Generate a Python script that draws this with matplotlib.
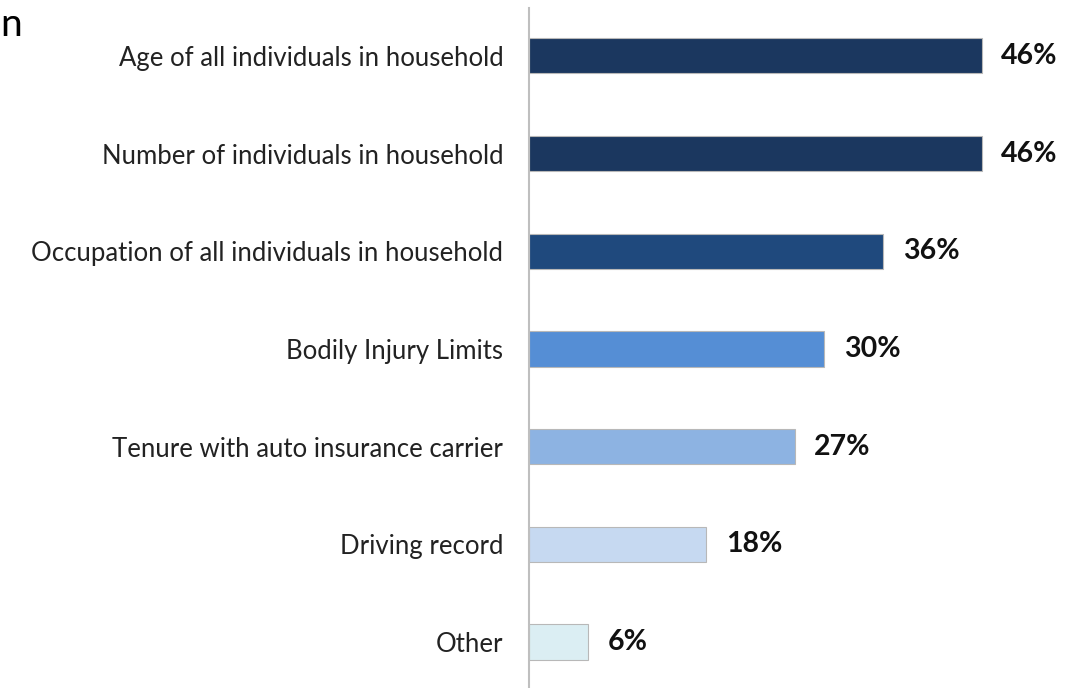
import matplotlib.pyplot as plt

categories = [
    "Age of all individuals in household",
    "Number of individuals in household",
    "Occupation of all individuals in household",
    "Bodily Injury Limits",
    "Tenure with auto insurance carrier",
    "Driving record",
    "Other",
]
values = [46, 46, 36, 30, 27, 18, 6]
colors = ["#1b375f", "#1b375f", "#1f497d", "#558ed5", "#8db3e2", "#c6d9f1", "#dbeef3"]

plt.rcParams["font.family"] = ["Lato", "DejaVu Sans"]

fig = plt.figure(figsize=(10.74, 6.88), dpi=100)
ax = fig.add_axes([529 / 1074, 0, (1074 - 529) / 1074, 680 / 688])

ypos = list(range(len(categories)))
ax.barh(ypos, values, height=0.36, color=colors, edgecolor="#b8b8b8", linewidth=0.8)

for y, v in zip(ypos, values):
    ax.text(v + 2.0, y, f"{v}%", va="center", ha="left",
            fontsize=20.5, fontweight="bold", color="#111111")

ax.set_xlim(0, 545 / 9.84)
ax.set_ylim(6.47, -0.49)
ax.set_yticks(ypos)
ax.set_yticklabels(categories, fontsize=18.5, color="#222222")
ax.tick_params(axis="y", length=0, pad=18.5)
ax.set_xticks([])

for side in ["top", "right", "bottom"]:
    ax.spines[side].set_visible(False)
ax.spines["left"].set_color("#bfbfbf")
ax.spines["left"].set_linewidth(1.5)

# title fragment at the top left corner
fig.text(0.0, 0.99, "n", fontsize=28, va="top", ha="left", color="black")

fig.savefig("out.png", dpi=100)
